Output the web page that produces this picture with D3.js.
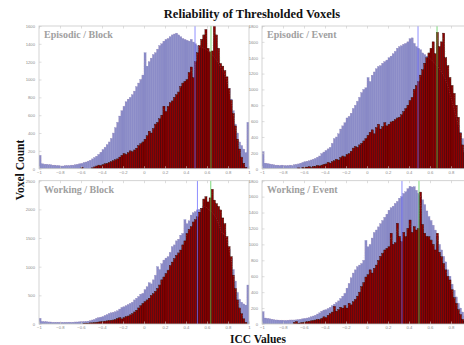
<!DOCTYPE html>
<html><head><meta charset="utf-8">
<script src="https://cdn.jsdelivr.net/npm/d3@7"></script>
<style>html,body{margin:0;padding:0;background:#fff;overflow:hidden}svg{display:block}</style>
</head><body>
<svg id="c" width="464" height="345"></svg>
<script>
// ---------- data ----------
const panelTitles = ["Episodic / Block", "Episodic / Event", "Working / Block", "Working / Event"];
const xTicks = [-1, -0.8, -0.6, -0.4, -0.2, 0, 0.2, 0.4, 0.6, 0.8, 1];
const yMaxes = [1600, 1800, 2500, 1800];
const yTickSteps = [200, 200, 500, 200];
const binStart = -1, binWidth = 0.02; // 100 bins from -1 to 1
const allMeans = [0.486, 0.486, 0.509, 0.333];      // all-voxel mean (blue line)
const threshMeans = [0.638, 0.667, 0.636, 0.495];   // thresholded mean (green line)

// Episodic / Block
const allEB = [150,55,50,50,45, 45,40,40,35,35, 30,30,35,35,35, 40,40,45,50,55,
  60,70,75,85,95, 110,125,140,160,185, 215,240,270,300,340, 400,460,520,590,650,
  700,750,780,800,830, 870,920,960,1000,1050, 1300,1150,1200,1240,1280, 1300,1340,1380,1400,1430,
  1450,1460,1480,1500,1510, 1520,1500,1480,1460,1450, 1440,1430,1450,1420,1400, 1380,1370,1360,1350,1340,
  1320,1300,1280,1250,1220, 1180,1140,1100,1050,980, 900,780,650,500,400, 300,260,220,180,520];
const thrEB = [0,0,0,0,0, 0,0,0,0,0, 0,0,0,0,0, 0,0,0,0,0,
  15,0,0,0,0, 10,20,30,40,35, 45,55,60,70,80, 90,100,110,130,150,
  170,160,180,200,190, 210,230,260,280,300, 330,370,420,400,450, 500,520,560,600,700,
  640,700,740,760,800, 830,860,920,960,980, 1000,1080,1140,1020,1200, 1300,1380,1450,1500,1560,
  1350,1310,1320,1600,1500, 1350,1180,1150,1100,1030, 900,770,620,480,330, 220,130,60,15,0];

// Episodic / Event
const allEE = [215,70,65,60,55, 50,45,45,40,45, 40,38,40,45,40, 50,55,60,70,80,
  88,95,100,110,120, 130,145,160,190,210, 230,250,270,320,380, 400,440,500,540,580,
  640,660,700,760,800, 850,900,960,1000,1020, 1150,1100,1180,1220,1260, 1290,1300,1330,1350,1370,
  1400,1420,1450,1480,1520, 1540,1550,1570,1580,1600, 1640,1650,1580,1540,1520, 1500,1460,1440,1420,1400,
  1380,1350,1320,1300,1260, 1220,1180,1120,1050,950, 850,750,650,550,460, 380,300,240,200,400];
const thrEE = [0,0,0,0,0, 0,0,0,0,0, 0,0,0,0,0, 0,0,10,0,15,
  20,20,25,15,30, 30,40,35,45,55, 60,80,70,90,100, 120,110,140,160,150,
  180,190,220,260,280, 270,300,320,350,380, 420,460,490,440,520, 560,500,530,580,540,
  560,590,600,620,640, 650,680,720,760,800, 860,900,1000,1050,1100, 1180,1250,1330,1400,1460,
  1520,1600,1450,1720,1540, 1600,1710,1400,1300,1150, 1050,950,800,650,450, 300,200,120,60,20];

// Working / Block
const allWB = [100,45,40,40,35, 35,30,30,30,30, 30,28,30,30,32, 30,32,35,35,38,
  40,42,45,50,58, 70,80,100,110,120, 130,150,165,185,195, 205,215,230,260,290,
  300,320,340,360,380, 420,450,480,520,535, 600,650,720,700,770, 850,1000,950,1050,1115,
  1150,1175,1250,1350,1380, 1450,1480,1550,1580,1820, 1750,1800,1900,1940,1960, 1990,2000,2020,2050,2050,
  2000,1980,1950,1900,1850, 1750,1650,1550,1600,1450, 1300,1150,950,750,550, 430,380,350,330,680];
const thrWB = [0,0,0,0,0, 0,0,0,0,0, 0,0,0,0,0, 0,0,0,0,0,
  0,10,15,10,20, 20,25,30,35,40, 45,50,55,60,65, 70,80,100,110,90,
  110,130,140,160,180, 210,240,280,320,360, 390,420,450,500,530, 570,620,680,770,820,
  880,940,1020,1080,1140, 1200,1240,1290,1380,1450, 1580,1650,1700,1780,1820, 1870,1950,2020,2180,2220,
  2130,2200,2350,2160,2100, 2050,1990,1850,1750,1525, 1350,1175,850,620,420, 280,180,90,30,0];

// Working / Event
const allWE = [155,75,70,65,60, 55,50,50,48,48, 45,45,48,50,50, 50,52,55,60,65,
  70,75,80,90,100, 110,125,140,160,175, 180,195,210,230,250, 270,290,320,350,385,
  450,510,580,640,680, 720,740,760,800,1050, 970,1000,1080,1150,1180, 1220,1260,1300,1340,1380,
  1430,1460,1480,1515,1540, 1580,1600,1640,1660,1700, 1730,1720,1725,1680,1640, 1600,1560,1500,1420,1350,
  1300,1240,1180,1100,1000, 930,850,780,680,600, 500,425,340,260,200, 150,100,80,60,40];
const thrWE = [0,0,0,0,0, 0,0,0,0,0, 0,0,0,0,0, 20,30,10,15,20,
  25,30,35,40,45, 50,60,55,70,90, 80,110,130,150,220, 160,180,210,200,230,
  200,260,240,280,310, 350,400,470,520,590, 620,680,640,700,740, 800,850,890,930,950,
  970,1140,1000,1020,1265, 1100,1034,1150,1097,1200, 1306,1150,1222,1180,1200, 1657,1250,1140,1100,1097,
  1055,1000,930,1140,900, 845,760,680,600,553, 430,330,260,180,120, 60,30,10,0,0];

const allSeries = [allEB, allEE, allWB, allWE];
const thrSeries = [thrEB, thrEE, thrWB, thrWE];

// ---------- layout ----------
const W = 464;
const panels = [
  {x: 39, y: 26, w: 210, h: 142.7},
  {x: 262, y: 26, w: 210, h: 142.7},
  {x: 39, y: 180.7, w: 210, h: 143.3},
  {x: 262, y: 180.7, w: 210, h: 143.3}
];
const svg = d3.select("#c");
const serif = "'Liberation Serif','Times New Roman',serif";
const blueFill = "#8b8cc8", redFill = "#8e0000";

svg.append("text").attr("x", 252).attr("y", 18).attr("text-anchor", "middle")
  .attr("font-family", serif).attr("font-weight", "bold").attr("font-size", 12.5)
  .attr("fill", "#111").text("Reliability of Thresholded Voxels");
svg.append("text").attr("transform", "translate(24,170) rotate(-90)").attr("text-anchor", "middle")
  .attr("font-family", serif).attr("font-weight", "bold").attr("font-size", 11.5)
  .attr("fill", "#111").text("Voxel Count");
svg.append("text").attr("x", 258).attr("y", 343).attr("text-anchor", "middle")
  .attr("font-family", serif).attr("font-weight", "bold").attr("font-size", 11.5)
  .attr("fill", "#111").text("ICC Values");

panels.forEach((p, k) => {
  const g = svg.append("g").attr("transform", `translate(${p.x},${p.y})`);
  const x = d3.scaleLinear().domain([-1, 1]).range([0, p.w]);
  const y = d3.scaleLinear().domain([0, yMaxes[k]]).range([p.h, 0]);
  const clipId = "clip" + k;
  g.append("clipPath").attr("id", clipId).append("rect").attr("width", p.w).attr("height", p.h);
  const inner = g.append("g").attr("clip-path", `url(#${clipId})`);
  inner.append("rect").attr("width", p.w).attr("height", p.h).attr("fill", "#fff");

  const binsOf = arr => arr.map((v, i) => ({x0: binStart + i * binWidth, x1: binStart + (i + 1) * binWidth, v}));
  const drawBars = (arr, fill, stroke, sw) => {
    inner.append("g").selectAll("rect").data(binsOf(arr)).join("rect")
      .attr("x", d => x(d.x0)).attr("width", d => x(d.x1) - x(d.x0))
      .attr("y", d => y(d.v)).attr("height", d => y(0) - y(d.v))
      .attr("fill", fill).attr("stroke", stroke).attr("stroke-width", sw);
  };
  drawBars(allSeries[k], blueFill, "#8283c0", 0.3);
  drawBars(thrSeries[k], redFill, "#300000", 0.4);

  // smooth outlines (dotted)
  const line = d3.line().curve(d3.curveBasis)
    .x(d => x((d.x0 + d.x1) / 2)).y(d => y(d.v));
  inner.append("path").attr("d", line(binsOf(allSeries[k]))).attr("fill", "none")
    .attr("stroke", "#f4a0a0").attr("stroke-width", 0.5).attr("stroke-dasharray", "1,1.5").attr("opacity", 0.45);
  inner.append("path").attr("d", line(binsOf(thrSeries[k]))).attr("fill", "none")
    .attr("stroke", "#7fdc7f").attr("stroke-width", 0.5).attr("stroke-dasharray", "1,1.5").attr("opacity", 0.45);

  // mean lines
  inner.append("line").attr("x1", x(allMeans[k])).attr("x2", x(allMeans[k]))
    .attr("y1", 0).attr("y2", p.h).attr("stroke", "#6a6aff").attr("stroke-width", 1).attr("opacity", 0.75);
  inner.append("line").attr("x1", x(threshMeans[k])).attr("x2", x(threshMeans[k]))
    .attr("y1", 0).attr("y2", p.h).attr("stroke", "#4ccc4c").attr("stroke-width", 1).attr("opacity", 0.75);

  // frame
  g.append("rect").attr("width", p.w).attr("height", p.h).attr("fill", "none")
    .attr("stroke", "#c8c8c8").attr("stroke-width", 0.8);

  // axes (only ticks whose labels fit inside the window)
  const visTicks = xTicks.filter(t => p.x + x(t) + 4 <= W);
  const yTickVals = d3.range(0, yMaxes[k] + 1, yTickSteps[k]);
  const yAxis = d3.axisLeft(y).tickValues(yTickVals).tickSize(-2.5).tickPadding(4).tickFormat(d3.format("d"));
  g.append("g").call(yAxis);
  const xAxis = d3.axisBottom(x).tickValues(visTicks).tickSize(-2.5).tickPadding(2.5).tickFormat(d => d3.format("")(+d.toFixed(1)));
  g.append("g").attr("transform", `translate(0,${p.h})`).call(xAxis);
  const xTop = d3.axisTop(x).tickValues(visTicks).tickSize(-2.5).tickFormat("");
  g.append("g").call(xTop);
  g.selectAll(".domain").remove();
  g.selectAll(".tick line").attr("stroke", "#c8c8c8").attr("stroke-width", 0.6);
  g.selectAll(".tick text").attr("fill", "#8a8a8a").attr("font-size", 4.2).attr("font-family", "'Liberation Sans',Arial,sans-serif");

  g.append("text").attr("x", 5).attr("y", 12).attr("font-family", serif).attr("font-weight", "bold")
    .attr("font-size", 10).attr("fill", "#a0a0a0").text(panelTitles[k]);
});
</script>
</body></html>
